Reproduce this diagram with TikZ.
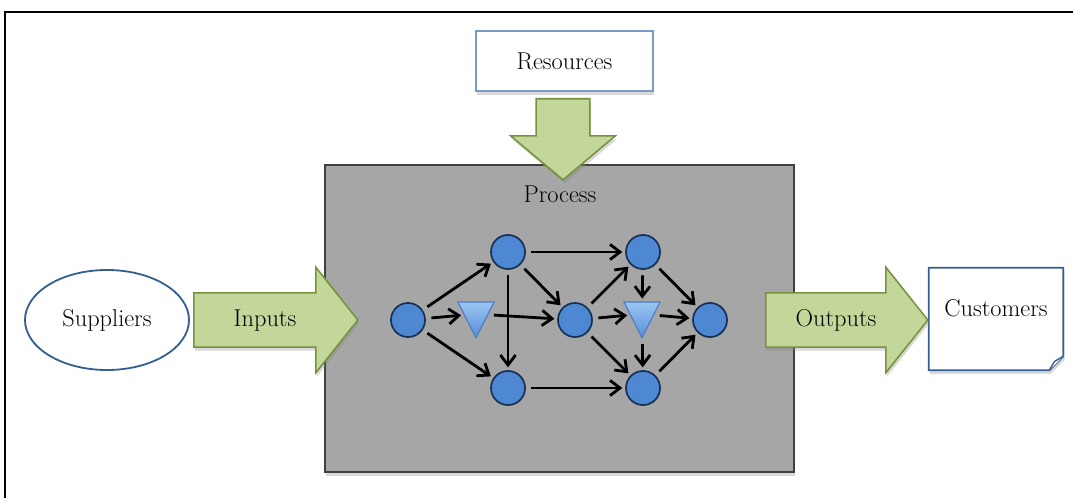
\documentclass[tikz,border=0pt]{standalone}
\usetikzlibrary{shapes.geometric,shapes.arrows,shadows,arrows.meta}

\definecolor{arrowfill}{RGB}{196,215,155}
\definecolor{arrowedge}{RGB}{118,146,60}
\definecolor{boxblue}{RGB}{54,96,146}
\definecolor{paleblue}{RGB}{120,155,200}
\definecolor{stationfill}{RGB}{79,136,210}
\definecolor{stationedge}{RGB}{23,48,85}
\definecolor{buffertop}{RGB}{155,198,242}
\definecolor{bufferbottom}{RGB}{88,140,215}
\definecolor{bufferedge}{RGB}{75,125,200}
\definecolor{processfill}{RGB}{166,166,166}
\definecolor{processedge}{RGB}{64,64,64}

\begin{document}
\begin{tikzpicture}[
  x=0.025cm, y=-0.025cm,
  every node/.style={align=center},
  txt/.style={font=\fontsize{17.3}{20}\selectfont},
  softshadow/.style={drop shadow={shadow xshift=1pt,shadow yshift=-2.5pt,opacity=0.3}},
  processbox/.style={draw=processedge,line width=1.2pt,fill=processfill,
      minimum width=11.725cm,minimum height=7.675cm,softshadow},
  resbox/.style={txt,draw=paleblue,line width=1pt,fill=white,
      minimum width=4.425cm,minimum height=1.5cm,softshadow},
  supplier/.style={txt,ellipse,draw=boxblue,line width=1.3pt,fill=white,
      minimum width=4.1cm,minimum height=2.5cm},
  customer/.style={txt,minimum width=3.35cm,minimum height=2.55cm,
      text height=0.45cm,text depth=0.55cm},
  blockarrow/.style={single arrow,draw=arrowedge,line width=1.1pt,fill=arrowfill,
      txt,text height=0.4cm,text depth=0.1cm,inner ysep=0.41cm,
      single arrow head extend=0.64cm,softshadow},
  station/.style={circle,draw=stationedge,line width=1.2pt,fill=stationfill,
      minimum size=0.85cm,inner sep=0pt,
      drop shadow={shadow xshift=0.8pt,shadow yshift=-0.8pt,opacity=0.3}},
  buffer/.style={regular polygon,regular polygon sides=3,shape border rotate=180,
      draw=bufferedge,line width=0.8pt,top color=buffertop,bottom color=bufferbottom,
      minimum size=1.04cm,inner sep=0pt,yscale=1.15},
  flow/.style={-{Straight Barb[length=0.25cm,width=0.38cm]},line width=2pt,
      shorten <=4pt,shorten >=2pt}]
\useasboundingbox (0,0) rectangle (1073,498);

% outer frame, only top and left edges are in view
\draw[line width=1.4pt] (5,510) -- (5,12) -- (1090,12);

% the process and its label
\node[processbox] (process) at (559.5,318.5) {};
\node[txt] (ptitle) at (560,194) {Process};

% surroundings
\node[resbox]   (resources) at (564.5,61) {Resources};
\node[supplier] (suppliers) at (107,320)  {Suppliers};
\node[customer] (customers) at (996,319)  {};
\draw[draw=boxblue,line width=1.3pt,fill=white,softshadow]
      (customers.north west) -- (customers.north east)
   -- ([yshift=0.35cm]customers.south east)
   -- ([xshift=-0.35cm]customers.south east)
   -- (customers.south west) -- cycle;
\draw[draw=boxblue,line width=1pt,fill=white]
      ([yshift=0.35cm]customers.south east)
   -- ([xshift=-0.22cm,yshift=0.22cm]customers.south east)
   -- ([xshift=-0.35cm]customers.south east);
\node[customer] at (customers) {Customers};

% big green flow arrows
\node[blockarrow,minimum height=4.1cm,single arrow tip angle=103,anchor=tail]
      (inputs) at (193,320) {Inputs};
\node[blockarrow,minimum height=4.05cm,single arrow tip angle=103,anchor=tail]
      (outputs) at (765,320) {Outputs};
\node[blockarrow,minimum height=2.025cm,single arrow tip angle=100,
      inner ysep=0.4cm,rotate=-90,anchor=tail] (supply) at (563,98) {};

% stations and buffers inside the process
\node[station] (src)  at (408,320) {};
\node[station] (up1)  at (508,252) {};
\node[station] (dn1)  at (508,388) {};
\node[buffer]  (inv1) at (476,314) {};
\node[station] (mid)  at (575,320) {};
\node[station] (up2)  at (643,252) {};
\node[buffer]  (inv2) at (642,314) {};
\node[station] (dn2)  at (643,388) {};
\node[station] (sink) at (710,320) {};

% material flow
\draw[flow] (src)  -- (up1);
\draw[flow] (src)  -- (inv1);
\draw[flow] (src)  -- (dn1);
\draw[flow] (inv1) -- (mid);
\draw[flow] (up1)  -- (dn1);
\draw[flow] (up1)  -- (mid);
\draw[flow] (up1)  -- (up2);
\draw[flow] (mid)  -- (up2);
\draw[flow] (mid)  -- (inv2);
\draw[flow] (mid)  -- (dn2);
\draw[flow] (up2)  -- (inv2);
\draw[flow] (up2)  -- (sink);
\draw[flow] (inv2) -- (sink);
\draw[flow] (inv2) -- (dn2);
\draw[flow] (dn1)  -- (dn2);
\draw[flow] (dn2)  -- (sink);
\end{tikzpicture}
\end{document}
